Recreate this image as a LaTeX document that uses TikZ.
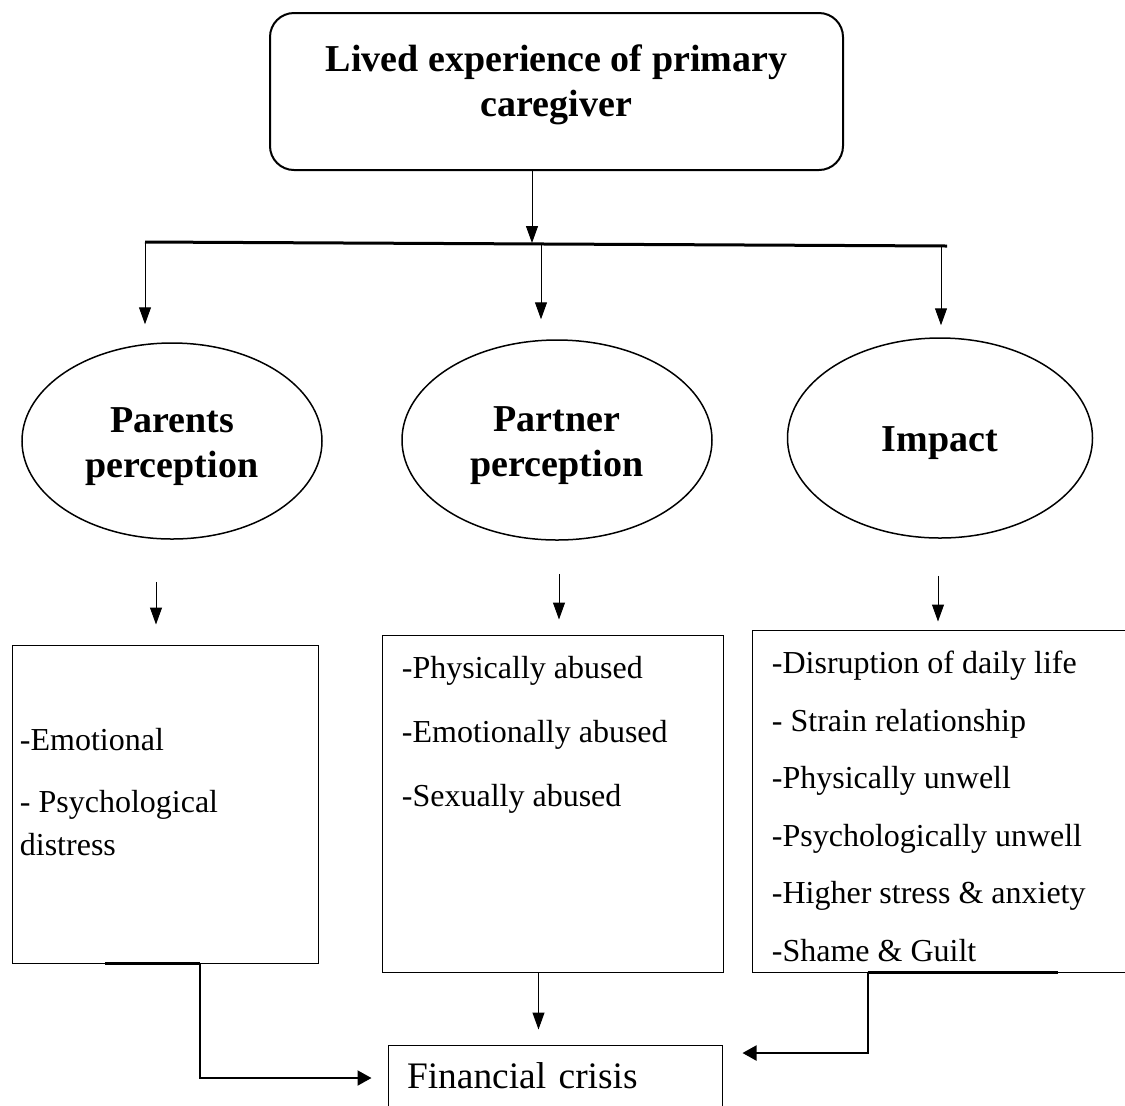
\documentclass[tikz,border=0pt]{standalone}
\usepackage{fontspec}
\setmainfont{Liberation Serif}
\usetikzlibrary{
  positioning,
  arrows.meta,
  shapes.geometric,
  calc
}

\begin{document}
\begin{tikzpicture}[
  x=0.5pt, y=-0.5pt,
  title/.style={font=\fontsize{19}{22.5}\selectfont\bfseries, align=center},
  bubble/.style={draw, ellipse, line width=0.75pt, inner sep=0pt},
  listbox/.style={draw, rectangle, line width=0.5pt, inner sep=0pt},
  items/.style={align=left, inner sep=0pt},
  arr/.style={-{Triangle[length=8.5pt, width=6pt]}, line width=0.5pt},
  joinarr/.style={-{Triangle[length=7pt, width=7.5pt]}, line width=1pt},
  ledge/.style={line width=1.6pt},
]
  \useasboundingbox (0,0) rectangle (1125,1105);

  % Main box
  \node[draw, rounded corners=12pt, line width=1pt,
        minimum width=286.5pt, minimum height=78.5pt] (lived) at (556.5,91.5) {};
  \node[title] (livedtxt) at (556.5,85) {Lived experience of primary\\caregiver};

  % Themes
  \node[bubble, minimum width=150pt, minimum height=98pt] (parents) at (172,441) {};
  \node[bubble, minimum width=155pt, minimum height=100pt] (partner) at (557,440) {};
  \node[bubble, minimum width=152.5pt, minimum height=100pt] (impact) at (940,438) {};
  \node[title] (parentstxt) at ([yshift=-3pt]parents.center) {Parents\\perception};
  \node[title] (partnertxt) at ([yshift=-3pt]partner.center) {Partner\\perception};
  \node[title] (impacttxt) at ([yshift=-2.5pt]impact.center) {Impact};

  % Branching
  \coordinate (split) at (532,243);
  \coordinate (barL) at (145,242);
  \coordinate (barM) at (541,244);
  \coordinate (barR) at (947,246);
  \coordinate (barRdrop) at (941,246);

  \draw[arr] (lived.south -| split) -- (split);
  \draw[line width=1.5pt] (barL) -- (barR);
  \draw[arr, shorten >=9pt] (barL) -- (barL |- parents.north);
  \draw[arr, shorten >=10pt] (barM) -- (barM |- partner.north);
  \draw[arr, shorten >=6pt] (barRdrop) -- (barRdrop |- impact.north);

  % Sub-theme boxes
  \node[listbox, minimum width=153pt, minimum height=159pt] (parlist) at (165,804) {};
  \node[listbox, minimum width=170.5pt, minimum height=168.5pt] (partlist) at (552.5,803.5) {};
  \node[listbox, minimum width=187.5pt, minimum height=171pt] (implist) at (939.5,801) {};

  \node[items, font=\fontsize{16}{21.5}\selectfont,
        below right=41.5pt and 4pt of parlist.north west] (partxt) {
    -Emotional\\[9.5pt]
    - Psychological\\
    distress
  };
  \node[items, font=\fontsize{16}{32}\selectfont,
        below right=10.5pt and 10pt of partlist.north west] (parttxt) {
    -Physically abused\\
    -Emotionally abused\\
    -Sexually abused
  };
  \node[items, font=\fontsize{16}{28.8}\selectfont,
        below right=10.5pt and 10pt of implist.north west] (imptxt) {
    -Disruption of daily life\\
    - Strain relationship\\
    -Physically unwell\\
    -Psychologically unwell\\
    -Higher stress \& anxiety\\
    -Shame \& Guilt
  };

  \draw[arr, shorten <=21pt, shorten >=10pt] ([xshift=-8pt]parents.south) -- ([xshift=-8pt]parents.south |- parlist.north);
  \draw[arr, shorten <=16.5pt, shorten >=7.5pt] ([xshift=1pt]partner.south) -- ([xshift=1pt]partner.south |- partlist.north);
  \draw[arr, shorten <=18.5pt, shorten >=4pt] ([xshift=-1pt]impact.south) -- ([xshift=-1pt]impact.south |- implist.north);

  % Outcome
  \node[draw, line width=0.5pt, font=\fontsize{18.7}{22}\selectfont, text width=148pt,
        align=left, inner xsep=9.5pt, minimum height=30.5pt] (crisis) at (555,1075.5) {Financial crisis};

  \draw[ledge] ([xshift=-30pt]parlist.south) -- ([xshift=17.5pt]parlist.south);
  \draw[joinarr] ([xshift=17.5pt]parlist.south) |- ([xshift=-8pt, yshift=-1.25pt]crisis.west);
  \draw[arr, shorten >=7.5pt] ([xshift=-7pt]partlist.south) -- ([xshift=-7pt]partlist.south |- crisis.north);
  \draw[ledge] ([xshift=-36pt]implist.south) -- ([xshift=59pt]implist.south);
  \draw[joinarr] ([xshift=-36pt]implist.south) |- ([xshift=10pt, yshift=11.25pt]crisis.east);

\end{tikzpicture}
\end{document}
